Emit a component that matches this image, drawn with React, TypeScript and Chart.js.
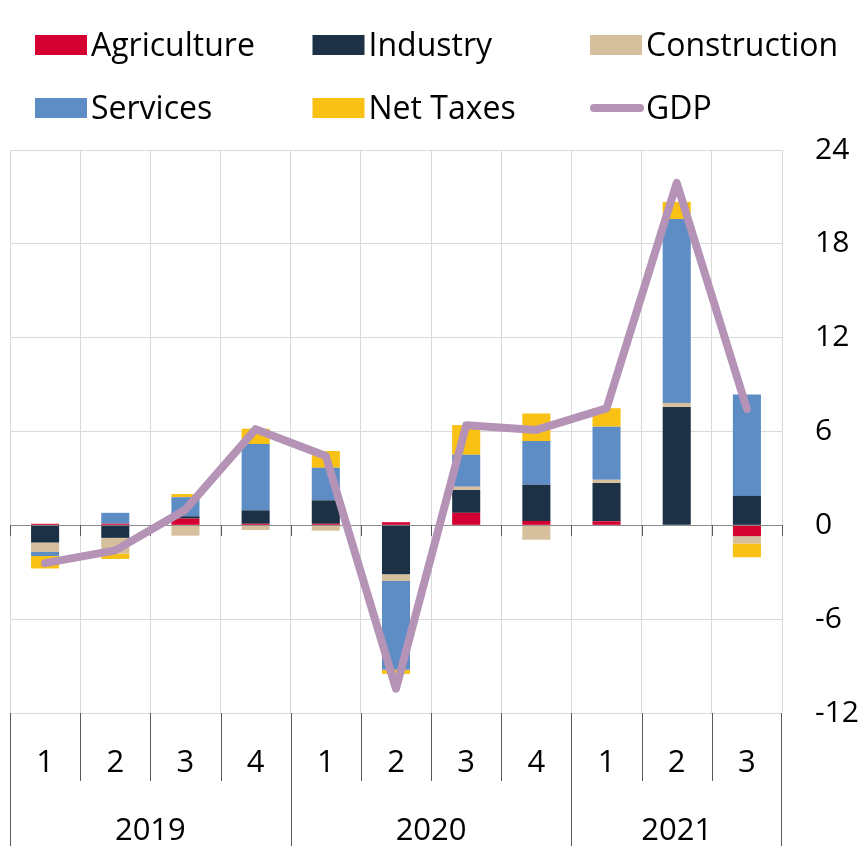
import React, { useEffect, useRef } from 'react';
import { Chart, registerables } from 'chart.js';

Chart.register(...registerables);

// ---------------- data ----------------
const quarterLabels = ['1', '2', '3', '4', '1', '2', '3', '4', '1', '2', '3'];
const yearLabels = ['2019', '2020', '2021'];
const quartersPerYear = [4, 4, 3];

const agriculture = [0.1, 0.1, 0.43, 0.1, 0.1, 0.2, 0.8, 0.28, 0.26, 0.03, -0.69];
const industry = [-1.1, -0.8, 0.15, 0.86, 1.5, -3.13, 1.46, 2.31, 2.44, 7.54, 1.88];
const construction = [-0.6, -1.0, -0.66, -0.3, -0.34, -0.43, 0.21, -0.92, 0.21, 0.26, -0.47];
const services = [-0.26, 0.7, 1.22, 4.24, 2.08, -5.68, 2.04, 2.8, 3.4, 11.76, 6.49];
const netTaxes = [-0.8, -0.35, 0.2, 0.98, 1.07, -0.26, 1.9, 1.76, 1.18, 1.09, -0.88];
const gdp = [-2.42, -1.6, 1.0, 6.15, 4.43, -10.45, 6.4, 6.1, 7.48, 21.9, 7.45];

const yMin = -12;
const yMax = 24;
const yStep = 6;

// ---------------- styles ----------------
const FONT = "'Open Sans', sans-serif";
const COLORS = {
  agriculture: '#d50032',
  industry: '#1d3146',
  construction: '#d5bf9c',
  services: '#5e8dc6',
  netTaxes: '#f9c114',
  gdp: '#b593b6',
};

const yearOf: string[] = [];
quartersPerYear.forEach((n, yi) => {
  for (let k = 0; k < n; k++) yearOf.push(yearLabels[yi]);
});
const categories = quarterLabels.map((q, i) => `${yearOf[i]} Q${q}`);

function boundaries(x: any, area: any): number[] {
  const n = x.ticks.length;
  const b = [area.left];
  for (let i = 0; i < n - 1; i++) {
    b.push((x.getPixelForValue(i) + x.getPixelForValue(i + 1)) / 2);
  }
  b.push(area.right);
  return b;
}

const decorPlugin = {
  id: 'decor',
  beforeDatasetsDraw(chart: any) {
    const { ctx, chartArea, scales } = chart;
    const x = scales.x;
    const y = scales.y;
    const y0 = Math.round(y.getPixelForValue(0));
    const bs = boundaries(x, chartArea);
    ctx.save();
    ctx.strokeStyle = '#595959';
    ctx.lineWidth = 1;
    ctx.beginPath();
    bs.forEach((b) => {
      const bx = Math.round(b) + 0.5;
      ctx.moveTo(bx, y0);
      ctx.lineTo(bx, y0 + 11);
    });
    ctx.stroke();
    ctx.restore();
  },
  afterDraw(chart: any) {
    const { ctx, chartArea, scales, data } = chart;
    const x = scales.x;
    const H = chart.height;
    const bs = boundaries(x, chartArea);
    const top = chartArea.bottom;
    ctx.save();

    // year boundary indices
    const yearBoundIdx: number[] = [0];
    let acc = 0;
    quartersPerYear.forEach((n) => {
      acc += n;
      yearBoundIdx.push(acc);
    });

    ctx.strokeStyle = '#595959';
    ctx.lineWidth = 1;
    ctx.beginPath();
    bs.forEach((b, i) => {
      let bx = Math.round(b) + 0.5;
      if (i === bs.length - 1) bx = Math.round(b) - 0.5;
      const isYear = yearBoundIdx.includes(i);
      ctx.moveTo(bx, top);
      ctx.lineTo(bx, isYear ? H : top + 68);
    });
    ctx.stroke();

    // quarter labels
    ctx.fillStyle = '#000';
    ctx.font = `31px ${FONT}`;
    ctx.textAlign = 'center';
    ctx.textBaseline = 'alphabetic';
    quarterLabels.forEach((q, i) => {
      ctx.fillText(q, x.getPixelForValue(i), top + 59);
    });
    // year labels
    yearLabels.forEach((yl, yi) => {
      const cx = (bs[yearBoundIdx[yi]] + bs[yearBoundIdx[yi + 1]]) / 2;
      ctx.fillText(yl, cx, top + 127);
    });

    // legend
    ctx.textAlign = 'left';
    ctx.font = `32px ${FONT}`;
    data.datasets.forEach((ds: any, i: number) => {
      const col = i % 3;
      const row = Math.floor(i / 3);
      const lx = 35 + col * 277.5;
      const cy = 45 + row * 63;
      if (ds.type === 'line') {
        ctx.strokeStyle = ds.borderColor;
        ctx.lineWidth = 8;
        ctx.lineCap = 'round';
        ctx.beginPath();
        ctx.moveTo(lx + 4, cy);
        ctx.lineTo(lx + 50, cy);
        ctx.stroke();
      } else {
        ctx.fillStyle = ds.backgroundColor;
        ctx.fillRect(lx, cy - 10, 52, 20);
      }
      ctx.fillStyle = '#000';
      ctx.fillText(ds.label, lx + 56, cy + 11);
    });
    ctx.restore();
  },
};

export default function App() {
  const ref = useRef<HTMLCanvasElement | null>(null);

  useEffect(() => {
    if (!ref.current) return;
    const barCommon = {
      type: 'bar' as const,
      stack: 'main',
      barPercentage: 1,
      categoryPercentage: 0.4,
      borderWidth: 0,
    };
    const chart = new Chart(ref.current, {
      type: 'bar',
      data: {
        labels: categories,
        datasets: [
          { ...barCommon, label: 'Agriculture', data: agriculture, backgroundColor: COLORS.agriculture },
          { ...barCommon, label: 'Industry', data: industry, backgroundColor: COLORS.industry },
          { ...barCommon, label: 'Construction', data: construction, backgroundColor: COLORS.construction },
          { ...barCommon, label: 'Services', data: services, backgroundColor: COLORS.services },
          { ...barCommon, label: 'Net Taxes', data: netTaxes, backgroundColor: COLORS.netTaxes },
          {
            type: 'line',
            label: 'GDP',
            data: gdp,
            stack: 'gdp',
            order: -1,
            borderColor: COLORS.gdp,
            backgroundColor: COLORS.gdp,
            borderWidth: 8,
            borderCapStyle: 'round',
            borderJoinStyle: 'round',
            pointRadius: 0,
            tension: 0,
            fill: false,
          } as any,
        ],
      },
      options: {
        responsive: false,
        animation: false,
        devicePixelRatio: 1,
        layout: { padding: { top: 150, left: 10, right: 0, bottom: 0 } },
        plugins: {
          legend: { display: false },
          tooltip: { enabled: false },
        },
        scales: {
          x: {
            stacked: true,
            offset: true,
            grid: { display: true, offset: true, color: '#d9d9d9', lineWidth: 1, drawTicks: false },
            border: { display: false },
            ticks: { display: false },
            afterFit: (s: any) => {
              s.height = 133;
            },
          },
          y: {
            stacked: true,
            position: 'right',
            min: yMin,
            max: yMax,
            grid: {
              color: (c: any) => (c.tick && c.tick.value === 0 ? '#8c8c8c' : '#d9d9d9'),
              lineWidth: 1,
              drawTicks: false,
            },
            border: { display: false },
            ticks: {
              stepSize: yStep,
              color: '#000',
              font: { family: FONT, size: 30 },
              padding: 33,
              crossAlign: 'near',
            },
            afterFit: (s: any) => {
              s.width = 81;
            },
          },
        },
      } as any,
      plugins: [decorPlugin],
    });
    return () => chart.destroy();
  }, []);

  return (
    <div style={{ position: 'absolute', left: 0, top: 0, width: 863, height: 846, background: '#fff' }}>
      <canvas ref={ref} width={863} height={846} />
    </div>
  );
}
